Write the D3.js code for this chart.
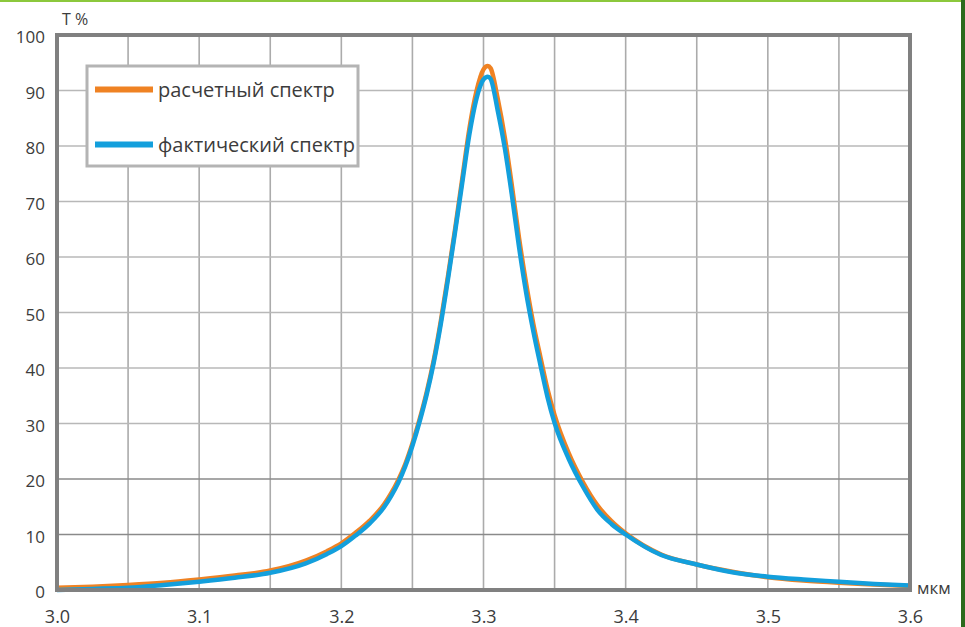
<!DOCTYPE html>
<html>
<head>
<meta charset="utf-8">
<script src="https://cdn.jsdelivr.net/npm/d3@7"></script>
<style>
  html, body { margin: 0; padding: 0; background: #ffffff; }
  svg { display: block; }
  text { font-family: "Open Sans", "Noto Sans", sans-serif; fill: #3c3c3c; }
</style>
</head>
<body>
<svg id="chart" width="965" height="627"></svg>
<script>
// Wavelength, µm
const wavelength = [
  3.00, 3.025, 3.05, 3.075, 3.10, 3.125, 3.15, 3.175, 3.19, 3.20,
  3.21, 3.22, 3.23, 3.235, 3.24, 3.245, 3.25, 3.255, 3.26, 3.265,
  3.27, 3.275, 3.28, 3.285, 3.29, 3.295, 3.30, 3.303, 3.305, 3.31,
  3.315, 3.32, 3.325, 3.33, 3.335, 3.34, 3.345, 3.35, 3.36, 3.37,
  3.38, 3.39, 3.40, 3.425, 3.45, 3.475, 3.50, 3.525, 3.55, 3.575, 3.60
];

// Calculated transmission spectrum, %
const calculated = [
  0.4, 0.6, 0.9, 1.3, 1.9, 2.6, 3.5, 5.3, 7.0, 8.4,
  10.3, 12.5, 15.4, 17.4, 19.8, 22.7, 26.4, 30.7, 35.6, 41.4,
  48.5, 56.5, 65.0, 74.0, 83.0, 89.8, 93.8, 94.4, 94.0, 88.5,
  81.5, 72.8, 63.4, 55.2, 48.0, 42.0, 36.2, 31.5, 24.6, 19.4,
  15.3, 12.4, 10.2, 6.4, 4.6, 3.3, 2.3, 1.7, 1.3, 1.0, 0.7
];

// Measured transmission spectrum, %
const measured = [
  0.0, 0.2, 0.4, 0.9, 1.5, 2.2, 3.1, 4.8, 6.5, 7.9,
  9.8, 12.0, 14.9, 16.9, 19.3, 22.3, 26.0, 30.3, 35.2, 41.0,
  48.0, 56.0, 64.5, 73.3, 82.0, 88.5, 92.0, 92.5, 92.1, 86.4,
  79.6, 71.1, 61.8, 53.6, 46.7, 40.6, 34.8, 30.1, 23.6, 18.6,
  14.5, 11.9, 10.0, 6.3, 4.6, 3.2, 2.4, 1.9, 1.5, 1.1, 0.8
];

const seriesNames = ["расчетный спектр", "фактический спектр"];
const seriesColors = ["#ef8223", "#139fdc"];

const xTickValues = [3.0, 3.1, 3.2, 3.3, 3.4, 3.5, 3.6];
const xTickLabels = ["3.0", "3.1", "3.2", "3.3", "3.4", "3.5", "3.6"];
const xGridValues = [3.05, 3.10, 3.15, 3.20, 3.25, 3.30, 3.35, 3.40, 3.45, 3.50, 3.55];
const yTickValues = [0, 10, 20, 30, 40, 50, 60, 70, 80, 90, 100];
const yAxisTitle = "T %";
const xAxisTitle = "мкм";

const svg = d3.select("#chart");
const W = 965, H = 627;

const x = d3.scaleLinear().domain([3.0, 3.6]).range([57, 910]);
const y = d3.scaleLinear().domain([0, 100]).range([590, 35]);

// page decoration: thin light-green top rule and dark-green right edge
svg.append("rect").attr("x", 0).attr("y", 0).attr("width", W).attr("height", 2).attr("fill", "#8cc83c");
svg.append("rect").attr("x", 961).attr("y", 0).attr("width", 4).attr("height", H).attr("fill", "#2b6a1c");

// grid
const grid = svg.append("g");
grid.selectAll("line.v").data(xGridValues).join("line")
  .attr("x1", d => x(d)).attr("x2", d => x(d))
  .attr("y1", y(100)).attr("y2", y(0))
  .attr("stroke", "#ababab").attr("stroke-width", 1.6);
grid.selectAll("line.h").data(yTickValues.filter(v => v > 0 && v < 100)).join("line")
  .attr("x1", x(3.0)).attr("x2", x(3.6))
  .attr("y1", d => y(d)).attr("y2", d => y(d))
  .attr("stroke", d => d <= 20 ? "#8a8a8a" : "#b8b8b8").attr("stroke-width", 1.6);

// series lines
const line = d3.line()
  .x((d, i) => x(wavelength[i]))
  .y(d => y(d))
  .curve(d3.curveMonotoneX);

[calculated, measured].forEach((vals, k) => {
  svg.append("path")
    .attr("d", line(vals))
    .attr("fill", "none")
    .attr("stroke", seriesColors[k])
    .attr("stroke-width", 4.5)
    .attr("stroke-linejoin", "round");
});

// plot frame
svg.append("rect")
  .attr("x", x(3.0)).attr("y", y(100))
  .attr("width", x(3.6) - x(3.0)).attr("height", y(0) - y(100))
  .attr("fill", "none").attr("stroke", "#808080").attr("stroke-width", 4);

// axes labels
const yAxis = d3.axisLeft(y).tickValues(yTickValues).tickSize(0).tickPadding(12);
const gy = svg.append("g").attr("transform", `translate(${x(3.0)},0)`).call(yAxis);
gy.select(".domain").remove();
gy.selectAll("text").attr("font-size", 17).attr("fill", "#3c3c3c")
  .attr("font-family", "'Open Sans', sans-serif").attr("dy", "0.45em");

const xAxis = d3.axisBottom(x).tickValues(xTickValues)
  .tickFormat((d, i) => xTickLabels[i]).tickSize(0).tickPadding(0);
const gx = svg.append("g").attr("transform", `translate(0,${y(0)})`).call(xAxis);
gx.select(".domain").remove();
gx.selectAll("text").attr("font-size", 18).attr("fill", "#3c3c3c")
  .attr("font-family", "'Open Sans', sans-serif").attr("dy", null).attr("y", 33);

svg.append("text").attr("x", 62).attr("y", 25).attr("font-size", 16).text(yAxisTitle);
svg.append("text").attr("x", 917).attr("y", 594).attr("font-size", 17).text(xAxisTitle);

// legend
const lg = svg.append("g");
lg.append("rect").attr("x", 87).attr("y", 66).attr("width", 271).attr("height", 100)
  .attr("fill", "#ffffff").attr("stroke", "#b4b4b4").attr("stroke-width", 3);
const legendRows = [89.5, 144.5];
seriesNames.forEach((name, k) => {
  lg.append("line").attr("x1", 95).attr("x2", 153)
    .attr("y1", legendRows[k]).attr("y2", legendRows[k])
    .attr("stroke", seriesColors[k]).attr("stroke-width", 6);
  lg.append("text").attr("x", 158).attr("y", legendRows[k] + 7)
    .attr("font-size", 20).attr("fill", "#3c3c3c").text(name);
});
</script>
</body>
</html>
